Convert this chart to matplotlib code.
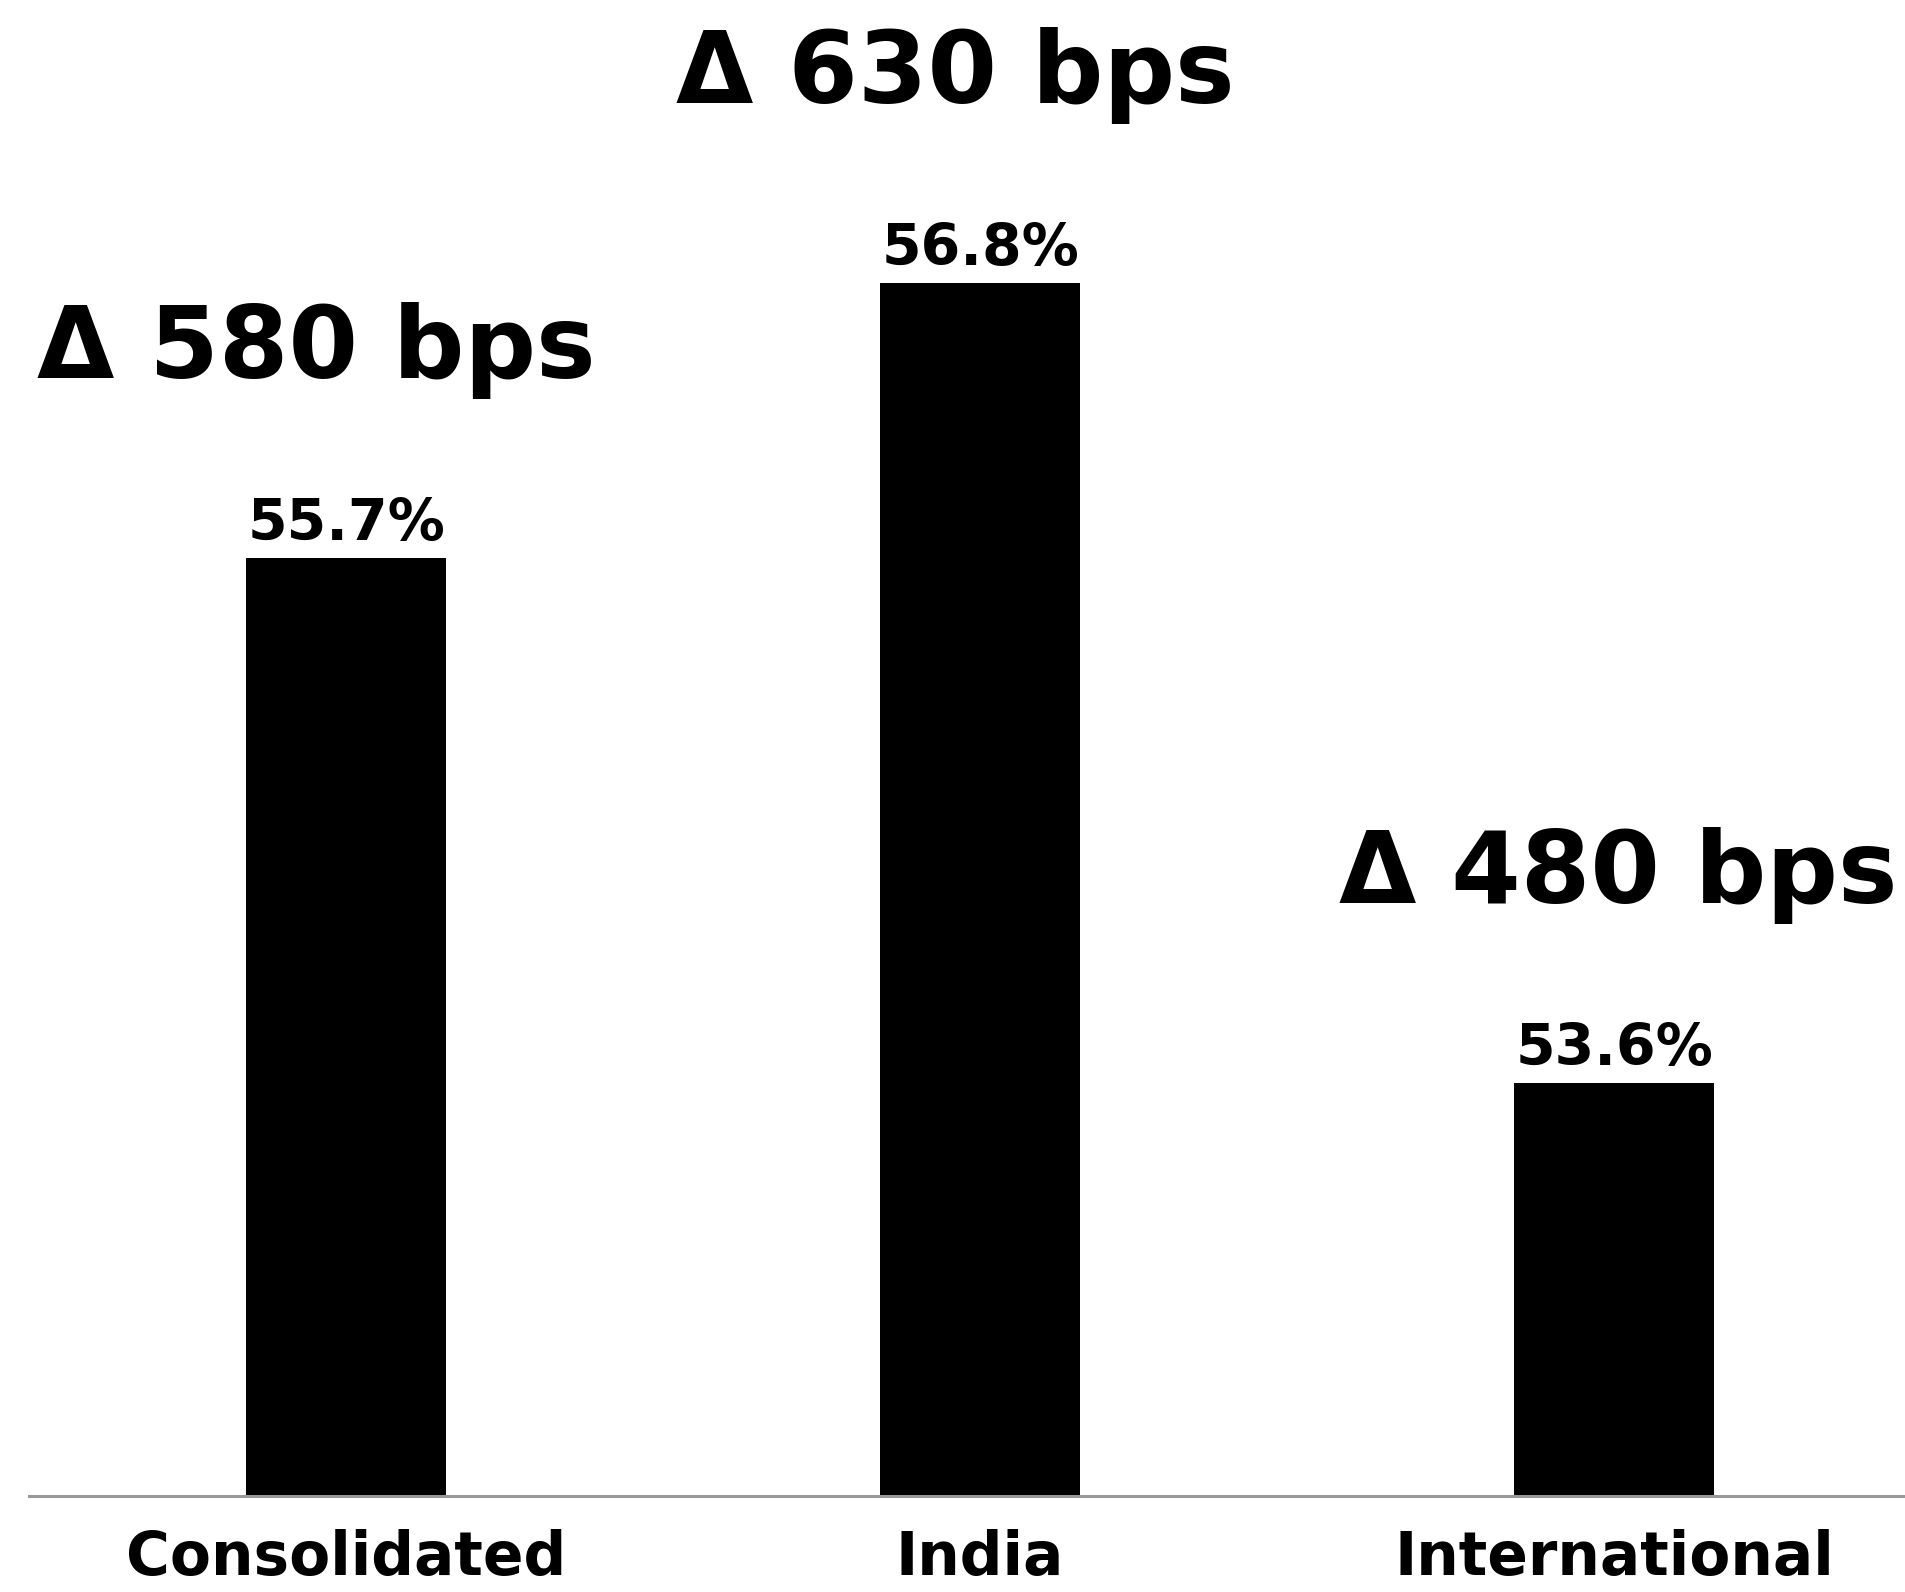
import matplotlib.pyplot as plt

categories = ["Consolidated", "India", "International"]
margins = [55.7, 56.8, 53.6]
deltas = [580, 630, 480]

plt.rcParams['font.family'] = ['DejaVu Sans']

fig = plt.figure(figsize=(19.06, 15.92), dpi=100)
ax = fig.add_axes([0.0152, 0.0603, 0.9848, 0.9397])

x = range(len(categories))
ax.bar(x, margins, width=0.315, color='black', zorder=2)

ax.set_ylim(51.95, 57.93)
ax.set_xlim(-0.5, 2.46)

for s in ['top', 'right', 'left']:
    ax.spines[s].set_visible(False)
ax.spines['bottom'].set_color('#999999')
ax.spines['bottom'].set_linewidth(2.2)
ax.set_yticks([])
ax.set_xticks(list(x))
ax.set_xticklabels(categories, fontsize=43, fontweight='bold')
ax.tick_params(axis='x', length=0, pad=24)

# horizontal nudge for the delta callouts (pixels)
dx = [-30, -25, 4]
for i, (v, d) in enumerate(zip(margins, deltas)):
    ax.annotate(f"{v:.1f}%", xy=(i, v), xytext=(0, 18), textcoords='offset pixels',
                ha='center', va='baseline', fontsize=41, fontweight='bold')
    ax.annotate(f"\u0394 {d} bps", xy=(i, v), xytext=(dx[i], 180), textcoords='offset pixels',
                ha='center', va='baseline', fontsize=72, fontweight='bold')

fig.savefig('out.png', dpi=100)
